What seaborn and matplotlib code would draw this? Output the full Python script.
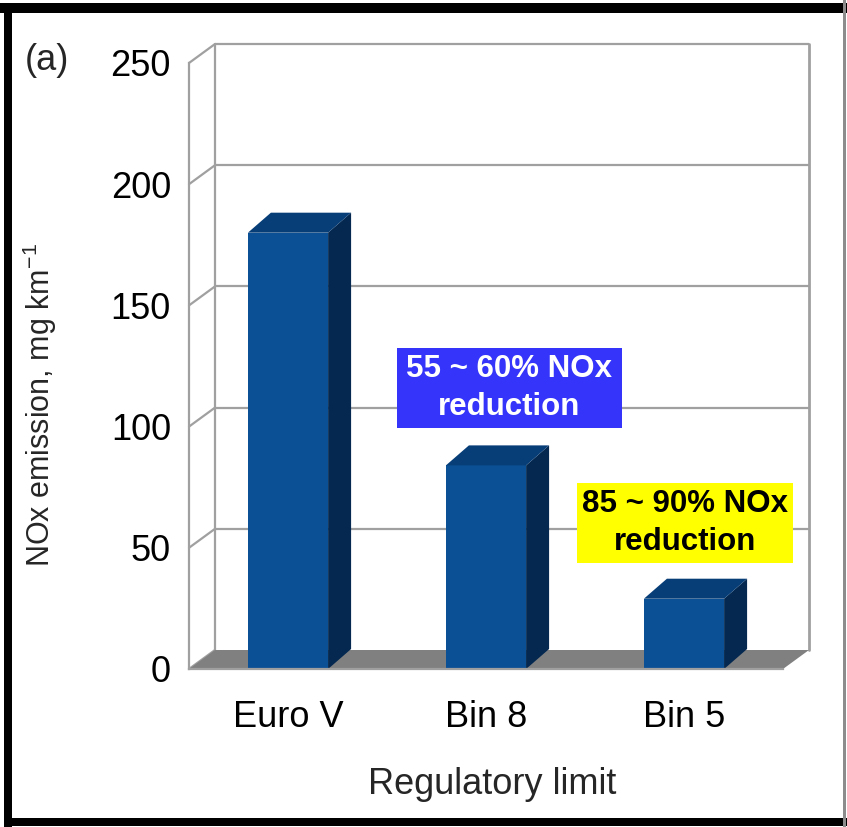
import matplotlib
matplotlib.use("Agg")
import matplotlib.pyplot as plt
from matplotlib.patches import Polygon, Rectangle
import seaborn as sns
import pandas as pd

# --- data -------------------------------------------------------------
categories = ["Euro V", "Bin 8", "Bin 5"]
nox_limit = [180, 84, 29]          # mg/km
y_ticks = [0, 50, 100, 150, 200, 250]
note_mid = "55 ~ 60% NOx\nreduction"
note_low = "85 ~ 90% NOx\nreduction"

# --- style ------------------------------------------------------------
sns.set_theme(style="white")
plt.rcParams["font.family"] = ["Liberation Sans", "DejaVu Sans"]
plt.rcParams["mathtext.default"] = "regular"

FRONT = "#0b4f95"
TOP = "#083e78"
SIDE = "#04284f"
GRID = "#a0a0a0"
FLOOR = "#808080"

W, H = 847, 827
fig = plt.figure(figsize=(W / 100, H / 100), dpi=100)
fig.patch.set_facecolor("white")

# front plane of the box: x 189..783 px, y 669 (0) .. 63 (250)
ax = fig.add_axes([189 / W, 1 - 669 / H, (783 - 189) / W, (669 - 63) / H])
ax.set_facecolor("none")
ax.set_xlim(-0.5, 2.5)
ax.set_ylim(0, 250)

# depth offsets of the walls and of the bars (data units)
wdx, wdy = 26 / 198, 19 / 2.424
bdx, bdy = 23 / 198, 20 / 2.424

ymax = y_ticks[-1]
x0, x1 = -0.5, 2.5

# back wall gridlines and left side-wall diagonals
for v in y_ticks:
    if v > 0:
        ax.plot([x0 + wdx, x1 + wdx], [v + wdy, v + wdy], color=GRID, lw=1.6,
                zorder=0.5, clip_on=False, solid_capstyle="butt")
    ax.plot([x0, x0 + wdx], [v, v + wdy], color=GRID, lw=1.6, zorder=0.5,
            clip_on=False)
ax.plot([x0 + wdx, x0 + wdx], [wdy, ymax + wdy], color=GRID, lw=1.6,
        zorder=0.5, clip_on=False)
ax.plot([x1 + wdx, x1 + wdx], [wdy, ymax + wdy], color=GRID, lw=2.0,
        zorder=0.5, clip_on=False)

# floor
ax.add_patch(Polygon([(x0, 0), (x1, 0), (x1 + wdx, wdy), (x0 + wdx, wdy)],
                     closed=True, facecolor=FLOOR, edgecolor="none",
                     zorder=0.6, clip_on=False))

# bars (front faces)
df = pd.DataFrame({"limit": categories, "nox": nox_limit})
sns.barplot(data=df, x="limit", y="nox", color=FRONT, saturation=1,
            width=0.405, ax=ax, zorder=2)

# extrude each bar: top and right side faces
for p in list(ax.patches):
    if not isinstance(p, Rectangle):
        continue
    bx, bw, bh = p.get_x(), p.get_width(), p.get_height()
    p.set_edgecolor("none")
    ax.add_patch(Polygon([(bx + bw, 0), (bx + bw + bdx, bdy),
                          (bx + bw + bdx, bh + bdy), (bx + bw, bh)],
                         closed=True, facecolor=SIDE, edgecolor="none",
                         zorder=2.1, clip_on=False))
    ax.add_patch(Polygon([(bx, bh), (bx + bw, bh), (bx + bw + bdx, bh + bdy),
                          (bx + bdx, bh + bdy)],
                         closed=True, facecolor=TOP, edgecolor="none",
                         zorder=2.1, clip_on=False))

# axes
for s in ["top", "right"]:
    ax.spines[s].set_visible(False)
for s in ["left", "bottom"]:
    ax.spines[s].set_color(GRID)
    ax.spines[s].set_linewidth(1.6)
    ax.spines[s].set_zorder(3)

ax.set_yticks(y_ticks)
ax.set_yticklabels([str(v) for v in y_ticks])
ax.tick_params(axis="y", which="major", direction="out", length=5,
               width=1.6, color=GRID, labelsize=26, pad=8, labelcolor="black")

ax.set_xticks([-0.5, 0.5, 1.5, 2.5])
ax.set_xticklabels([])
ax.set_xticks([0, 1, 2], minor=True)
ax.set_xticklabels(categories, minor=True)
ax.tick_params(axis="x", which="major", direction="out", length=8,
               width=1.6, color=GRID)
ax.tick_params(axis="x", which="minor", length=0, labelsize=26, pad=22,
               labelcolor="black")
ax.set_xlabel("")
ax.set_ylabel("")

# annotation boxes
def note(xa, xb, ya, yb, face, text, tcolor):
    ax.add_patch(Rectangle((xa, ya), xb - xa, yb - ya, facecolor=face,
                           edgecolor="none", zorder=4, clip_on=False))
    ax.text((xa + xb) / 2, (ya + yb) / 2, text, ha="center", va="center",
            fontsize=22.5, fontweight="bold", color=tcolor, zorder=5,
            linespacing=1.32)

note(0.550, 1.687, 99.4, 132.4, "#3434fa", note_mid, "white")
note(1.460, 2.550, 43.7, 76.7, "#ffff00", note_low, "black")

# labels
fig.text(40 / W, 1 - 405 / H, r"NOx emission, mg km$^{-1}$", rotation=90,
         ha="center", va="center", fontsize=22)
fig.text(492 / W, 1 - 785 / H, "Regulatory limit", ha="center", va="center",
         fontsize=26)
fig.text(47 / W, 1 - 60 / H, "(a)", ha="center", va="center", fontsize=26)

# panel frame
fig.add_artist(Rectangle((0, 1 - 13 / H), 1, 10 / H, transform=fig.transFigure,
                         facecolor="black", edgecolor="none"))
fig.add_artist(Rectangle((4 / W, 0), 8 / W, 1 - 3 / H, transform=fig.transFigure,
                         facecolor="black", edgecolor="none"))
fig.add_artist(Rectangle((4 / W, 1 / H), 1, 8 / H, transform=fig.transFigure,
                         facecolor="black", edgecolor="none"))
fig.add_artist(Rectangle((843 / W, 0), 3 / W, 1, transform=fig.transFigure,
                         facecolor="#8c8c8c", edgecolor="none"))

fig.savefig("out.png", dpi=100)
